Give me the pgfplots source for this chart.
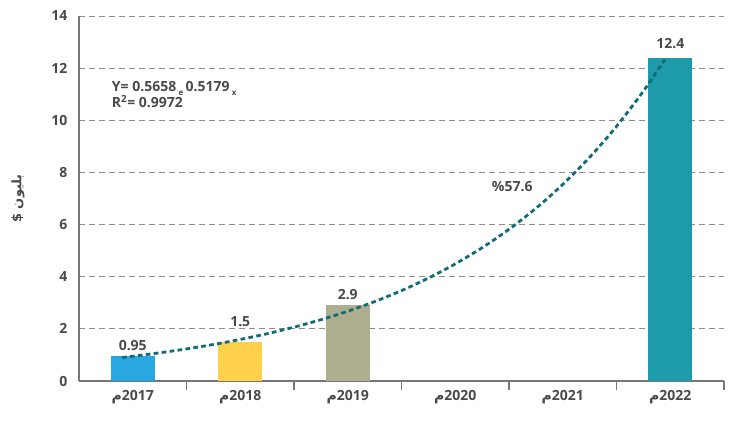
\documentclass[border=0pt]{standalone}
\usepackage{pgfplots}
\pgfplotsset{compat=1.18}
\usepackage{fontspec}
\setmainfont{Open Sans}
\newfontfamily\arabicfont[Script=Arabic]{DejaVu Sans}
\TeXXeTstate=1
\definecolor{txt}{HTML}{4A4A4A}
\definecolor{axgray}{HTML}{777777}
\definecolor{gridgray}{HTML}{8C8C8C}
\definecolor{cblue}{HTML}{29A8E0}
\definecolor{cyellow}{HTML}{FDD14B}
\definecolor{colive}{HTML}{ADAE8E}
\definecolor{cteal}{HTML}{1E9BAA}
\definecolor{ctrend}{HTML}{136B76}
\begin{document}
\begin{tikzpicture}
\begin{axis}[name=ax, scale only axis, width=645pt, height=365pt,
  xmin=-0.5, xmax=5.5, ymin=0, ymax=14,
  axis lines=left, axis line style={draw=axgray, line width=1.3pt, -},
  xtick={0,...,5},
  xticklabels={{\arabicfont م}2017,{\arabicfont م}2018,{\arabicfont م}2019,{\arabicfont م}2020,{\arabicfont م}2021,{\arabicfont م}2022},
  minor xtick={0.5,1.5,...,5.5},
  major tick length=0pt, minor tick length=9pt,
  minor x tick style={draw=axgray, line width=1.1pt},
  tick align=inside,
  ytick={0,2,...,14},
  ymajorgrids, grid style={draw=gridgray, line width=0.9pt, dash pattern=on 6pt off 4pt},
  minor grid style={draw=none},
  ticklabel style={font=\bfseries\fontsize{14}{16}\selectfont, text=txt},
  xticklabel style={yshift=-6pt},
  yticklabel style={xshift=-8pt},
  /pgf/number format/assume math mode=true,
  ylabel={\arabicfont\bfseries\fontsize{13}{15}\selectfont\beginR بليون \$\endR},
  ylabel style={at={(axis description cs:0,0.5)}, yshift=61pt, anchor=center, text=txt},
  ybar, bar width=0.41, bar shift=0pt,
  clip=false,
]
\addplot[fill=cblue, draw=none, nodes near coords, every node near coord/.append style={font=\bfseries\fontsize{14}{16}\selectfont, text=txt, yshift=2pt}] coordinates {(0,0.95)};
\addplot[fill=cyellow, draw=none, nodes near coords, every node near coord/.append style={font=\bfseries\fontsize{14}{16}\selectfont, text=txt, yshift=12pt}] coordinates {(1,1.5)};
\addplot[fill=colive, draw=none, nodes near coords, every node near coord/.append style={font=\bfseries\fontsize{14}{16}\selectfont, text=txt, yshift=2pt}] coordinates {(2,2.9)};
\addplot[fill=cteal, draw=none, nodes near coords, every node near coord/.append style={font=\bfseries\fontsize{14}{16}\selectfont, text=txt, yshift=5pt}] coordinates {(5,12.4)};
\addplot[sharp plot, smooth, no marks, draw=ctrend, line width=2.8pt, dash pattern=on 4.7pt off 3.3pt] coordinates {
(-0.1,0.9017) (0,0.9497) (0.25,1.0810) (0.5,1.2305) (0.75,1.4005) (1,1.5941)
(1.25,1.8144) (1.5,2.0653) (1.75,2.3507) (2,2.6756) (2.25,3.0455) (2.5,3.4665)
(2.75,3.9456) (3,4.4908) (3.25,5.1118) (3.5,5.8186) (3.75,6.6227) (4,7.5388)
(4.25,8.5803) (4.5,9.767) (4.75,11.116) (4.95,12.33)};
\node[anchor=base west, inner sep=0pt, text=txt, font=\bfseries\fontsize{14}{16}\selectfont] at (axis cs:-0.195,11.11) {Y= 0.5658\,\raisebox{-4pt}{\fontsize{8}{8}\selectfont e}\,0.5179\,\raisebox{-4pt}{\fontsize{8}{8}\selectfont x}};
\node[anchor=base west, inner sep=0pt, text=txt, font=\bfseries\fontsize{14}{16}\selectfont] at (axis cs:-0.195,10.48) {R\textsuperscript{2}= 0.9972};
\node[text=txt, font=\bfseries\fontsize{14}{16}\selectfont] at (axis cs:3.53,7.45) {\%57.6};
\end{axis}
\pgfresetboundingbox
\path ([xshift=-79pt,yshift=-40pt]ax.south west) rectangle ([xshift=9pt,yshift=16pt]ax.north east);
\end{tikzpicture}
\end{document}
